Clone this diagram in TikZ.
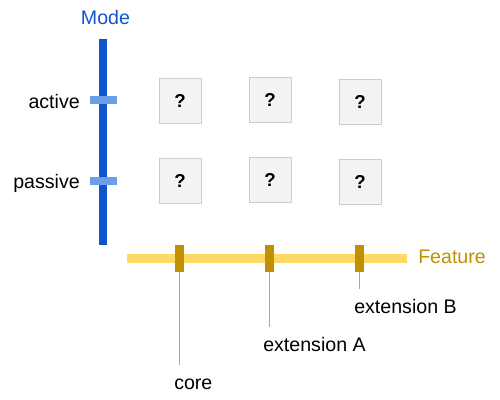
\documentclass[tikz,border=0pt]{standalone}
\usepackage{fontspec}
\setmainfont{Liberation Sans}
\usetikzlibrary{positioning}

\definecolor{modeblue}{HTML}{1155CC}
\definecolor{modelight}{HTML}{6D9EEB}
\definecolor{featyellow}{HTML}{FFD966}
\definecolor{featgold}{HTML}{BF9000}
\definecolor{cellfill}{HTML}{F3F3F3}
\definecolor{cellline}{HTML}{CCCCCC}
\definecolor{leader}{HTML}{A6A6A6}

\tikzset{
  cell/.style={draw=cellline, fill=cellfill, minimum width=31.5pt, minimum height=33.75pt,
    inner sep=0pt, font=\fontsize{14}{15}\selectfont\bfseries},
  modetick/.style={fill=modelight, minimum width=20.25pt, minimum height=6pt, inner sep=0pt},
  feattick/.style={fill=featgold, minimum width=6.75pt, minimum height=20.25pt, inner sep=0pt},
  lbl/.style={font=\fontsize{14.7}{16}\selectfont, inner sep=0pt, text height=10.5pt, text depth=3pt},
}

\begin{document}
\begin{tikzpicture}[x=0.75pt,y=-0.75pt]
  \useasboundingbox (0,0) rectangle (500,400);
  % Axes
  \draw[modeblue, line width=6pt] (103,39) -- (103,245);
  \draw[featyellow, line width=6.75pt] (127,258.5) -- (407,258.5);
  \node[lbl, modeblue, anchor=base] (mode) at (105.5,24) {Mode};
  \node[lbl, featgold, anchor=base west] (feature) at (418,263) {Feature};
  % Mode ticks
  \node[modetick] (tact) at (103.5,100) {};
  \node[modetick] (tpas) at (103.5,181) {};
  \node[lbl, anchor=base east] (lact) at (80,108) {active};
  \node[lbl, anchor=base east] (lpas) at (80,188.5) {passive};
  % Feature ticks
  \node[feattick] (tcore) at (179.5,258.5) {};
  \node[feattick] (textA) at (269.5,258.5) {};
  \node[feattick] (textB) at (359.5,258.5) {};
  \node[lbl, anchor=base west] (lcore) at (174,389) {core};
  \node[lbl, anchor=base west] (lextA) at (263,351) {extension A};
  \node[lbl, anchor=base west] (lextB) at (354,313) {extension B};
  % Leaders
  \foreach \t/\l in {tcore/lcore, textA/lextA, textB/lextB}
    \draw[leader, line width=0.75pt, shorten >=7.5pt] (\t.south) -- (\t.south |- \l.north);
  % Cells
  \foreach \x/\y/\n in {180/101/aa, 270/100/ab, 360/102/ac, 180/181/pa, 270/180/pb, 360/182/pc}
    \node[cell] (c\n) at (\x,\y) {?};
\end{tikzpicture}
\end{document}
